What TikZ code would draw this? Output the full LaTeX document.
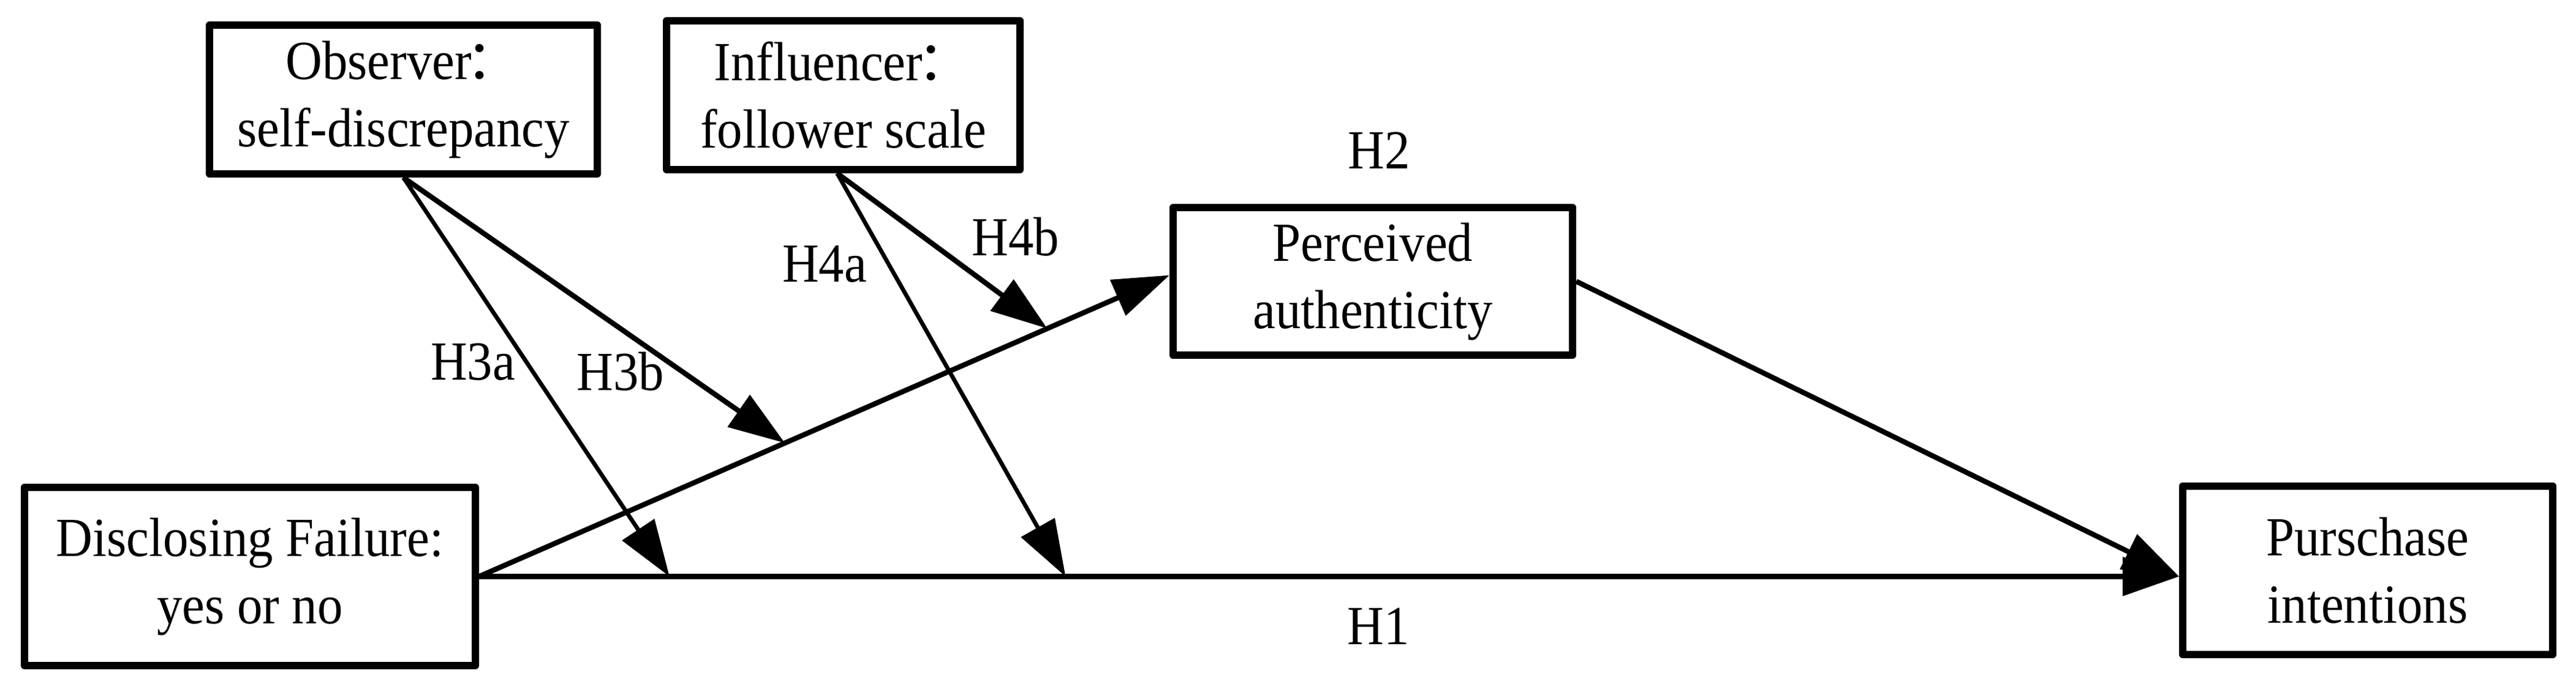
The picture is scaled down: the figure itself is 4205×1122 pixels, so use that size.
\documentclass[tikz,border=0pt]{standalone}
\usepackage{fontspec}
\setmainfont{Liberation Serif}[FakeStretch=0.92]
\newfontfamily\cjk{Noto Sans CJK SC}
\usetikzlibrary{arrows.meta,calc}
\newcommand{\fwcolon}{\kern-0.1em{\cjk ：}}
\begin{document}
\begin{tikzpicture}[x=0.25pt,y=-0.25pt,
  txt/.style={font=\fontsize{22.5pt}{27.5pt}\selectfont},
  box/.style={txt, draw, line width=3pt, line join=round, align=center, inner sep=0pt},
  lab/.style={txt, anchor=base, inner sep=0pt},
  arr/.style={line width=2.1pt, -{Triangle[length=23pt,width=15.5pt]}},
  thinarr/.style={arr, line width=1.7pt}]
\useasboundingbox (0,0) rectangle (4205,1122);
% boxes
\node[box, minimum width=158.25pt, minimum height=60.75pt] (obs) at (658.5,162.5) {Observer\fwcolon\\self-discrepancy};
\node[box, minimum width=144.25pt, minimum height=60.75pt] (inf) at (1376.5,155.5) {Influencer\fwcolon\\follower scale};
\node[box, minimum width=163pt, minimum height=60.25pt] (perc) at (2241,459.5) {Perceived\\authenticity};
\node[box, minimum width=184pt, minimum height=72.75pt] (disc) at (408,941.5) {Disclosing Failure:\\yes or no};
\node[box, minimum width=151pt, minimum height=68.75pt] (purch) at (3865,931.5) {Purschase\\intentions};
% anchor points on the paths
\coordinate (h2end) at ([yshift=2.5pt]perc.west);
\coordinate (pin) at (disc.east -| purch.west);
\coordinate (t3a) at ($(disc.east)!0.112!(pin)$);
\coordinate (t4a) at ($(disc.east)!0.345!(pin)$);
\coordinate (t3b) at ($(disc.east)!0.443!(h2end)$);
\coordinate (t4b) at ($(disc.east)!0.823!(h2end)$);
\coordinate (infs) at ([xshift=-2.5pt]inf.south);
% main paths
\draw[arr] (disc.east) -- (h2end);
\draw[arr] (disc.east) -- (pin);
\draw[arr] (perc.east) -- (pin);
% moderators
\draw[thinarr] (obs.south) -- (t3a);
\draw[arr] (obs.south) -- (t3b);
\draw[thinarr] (infs) -- (t4a);
\draw[arr] (infs) -- (t4b);
% labels
\node[lab] (l3a) at (772,620) {H3a};
\node[lab] (l3b) at (1013,637) {H3b};
\node[lab] (l4a) at (1346,461) {H4a};
\node[lab] (l4b) at (1658,418) {H4b};
\node[lab] (l2) at (2251,276) {H2};
\node[lab] (l1) at (2250,1052) {H1};
\end{tikzpicture}
\end{document}
